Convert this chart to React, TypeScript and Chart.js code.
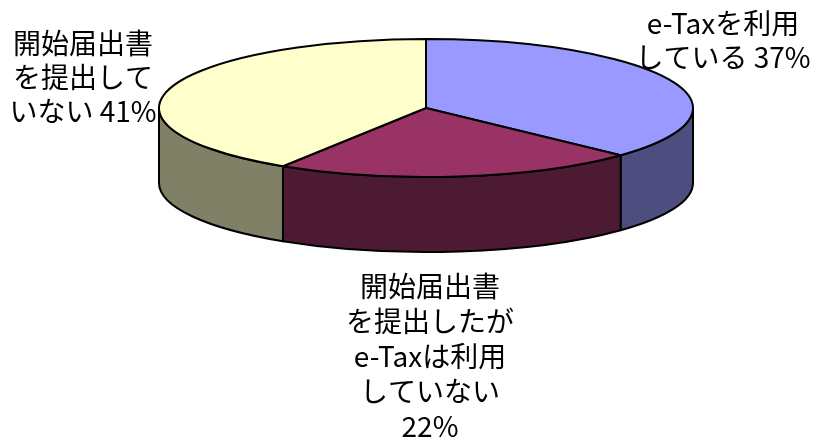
import React, { useEffect, useRef } from "react";
import { Chart, registerables } from "chart.js";

Chart.register(...registerables);

const categories = [
  "e-Taxを利用している",
  "開始届出書を提出したがe-Taxは利用していない",
  "開始届出書を提出していない",
];
const values = [37, 22, 41];
const topColors = ["#9999FF", "#993366", "#FFFFCC"];
const sideColors = ["#4D4D80", "#4D1A33", "#808066"];
const labelLines = [
  ["e-Taxを利用", "している {p}"],
  ["開始届出書", "を提出したが", "e-Taxは利用", "していない", "{p}"],
  ["開始届出書", "を提出して", "いない {p}"],
];

const ASPECT = 267 / 69;
const DEPTH = 75;
const LABEL_POS = [
  { x: 723, y: 23, lh: 34 },
  { x: 430, y: 286, lh: 35.2 },
  { x: 83, y: 43, lh: 34 },
];

function frontRanges(s: number, e: number): [number, number][] {
  const out: [number, number][] = [];
  for (const k of [-1, 0, 1]) {
    const lo = 2 * Math.PI * k;
    const hi = lo + Math.PI;
    const a = Math.max(s, lo);
    const b = Math.min(e, hi);
    if (b > a) out.push([a, b]);
  }
  return out;
}

const pie3d = {
  id: "pie3d",
  beforeDatasetsDraw(chart: any) {
    const ctx: CanvasRenderingContext2D = chart.ctx;
    const meta = chart.getDatasetMeta(0);
    const arcs = meta.data;
    if (!arcs.length) return false;
    const cx = arcs[0].x;
    const cy = arcs[0].y;
    const ry = arcs[0].outerRadius;
    const rx = ry * ASPECT;
    ctx.save();
    ctx.lineWidth = 2;
    ctx.lineJoin = "round";
    ctx.strokeStyle = "#000";
    // side walls
    arcs.forEach((arc: any, i: number) => {
      for (const [a, b] of frontRanges(arc.startAngle, arc.endAngle)) {
        ctx.beginPath();
        ctx.ellipse(cx, cy, rx, ry, 0, a, b, false);
        ctx.lineTo(cx + rx * Math.cos(b), cy + ry * Math.sin(b) + DEPTH);
        ctx.ellipse(cx, cy + DEPTH, rx, ry, 0, b, a, true);
        ctx.closePath();
        ctx.fillStyle = sideColors[i];
        ctx.fill();
        ctx.stroke();
      }
    });
    // top faces
    arcs.forEach((arc: any, i: number) => {
      ctx.beginPath();
      ctx.moveTo(cx, cy);
      ctx.ellipse(cx, cy, rx, ry, 0, arc.startAngle, arc.endAngle, false);
      ctx.closePath();
      ctx.fillStyle = topColors[i];
      ctx.fill();
      ctx.stroke();
    });
    // labels
    const total = values.reduce((s, v) => s + v, 0);
    ctx.fillStyle = "#000";
    ctx.font = '28px "Noto Sans CJK JP", sans-serif';
    ctx.textAlign = "center";
    ctx.textBaseline = "middle";
    labelLines.forEach((lines, i) => {
      const p = Math.round((values[i] / total) * 100) + "%";
      const pos = LABEL_POS[i];
      lines.forEach((ln, j) => {
        ctx.fillText(ln.replace("{p}", p), pos.x, pos.y + j * pos.lh);
      });
    });
    ctx.restore();
    return false;
  },
};

export default function App() {
  const ref = useRef<HTMLCanvasElement | null>(null);
  useEffect(() => {
    if (!ref.current) return;
    const chart = new Chart(ref.current, {
      type: "pie",
      data: {
        labels: categories,
        datasets: [
          {
            data: values,
            backgroundColor: topColors,
            borderWidth: 0,
          },
        ],
      },
      options: {
        responsive: false,
        animation: false,
        layout: { padding: { left: 159, right: 123, top: 39, bottom: 267 } },
        plugins: { legend: { display: false }, tooltip: { enabled: false } },
      },
      plugins: [pie3d],
    });
    return () => chart.destroy();
  }, []);
  return (
    <div style={{ position: "fixed", left: 0, top: 0, width: 816, height: 444, background: "#fff" }}>
      <canvas ref={ref} width={816} height={444} />
    </div>
  );
}
